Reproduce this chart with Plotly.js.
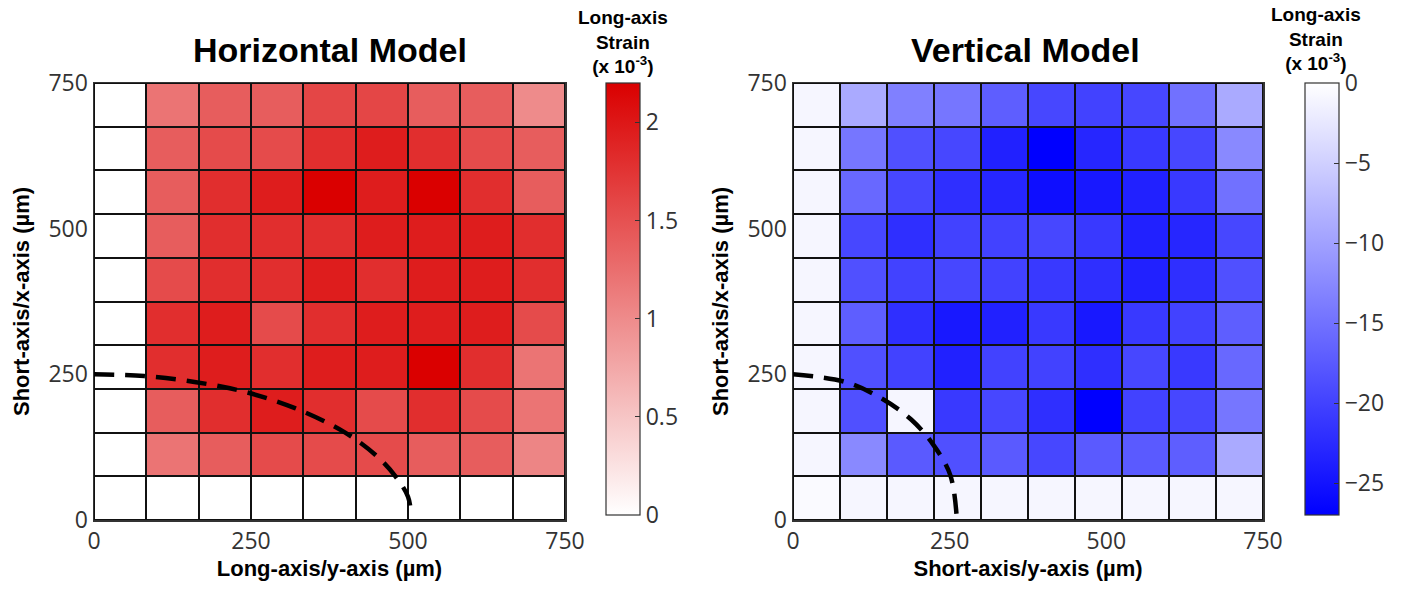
<!DOCTYPE html>
<html>
<head>
<meta charset="utf-8">
<script src="https://cdn.plot.ly/plotly-3.0.1.min.js"></script>
<style>html,body{margin:0;padding:0;background:#fff;}#chart{width:1404px;height:590px;}</style>
</head>
<body>
<div id="chart"></div>
<script>
// ---- Data ----
const horizXEdges = [0, 83.33, 166.67, 250, 333.33, 416.67, 500, 583.33, 666.67, 750];
const vertXEdges = [0, 75, 150, 225, 300, 375, 450, 525, 600, 675, 750];
const yEdges = [0, 75, 150, 225, 300, 375, 450, 525, 600, 675, 750];

// rows listed from y = 0 (bottom) to y = 750 (top)
const horizStrain = [
  [0, 0,    0,    0,    0,    0,    0,    0,    0   ],
  [0, 1.2,  1.4,  1.55, 1.55, 1.55, 1.4,  1.4,  1.05],
  [0, 1.4,  1.8,  1.95, 1.8,  1.55, 1.8,  1.55, 1.2 ],
  [0, 1.8,  1.95, 1.8,  1.95, 1.95, 2.2,  1.8,  1.2 ],
  [0, 1.8,  1.95, 1.55, 1.8,  1.95, 1.95, 1.95, 1.55],
  [0, 1.55, 1.8,  1.8,  1.95, 1.8,  1.95, 1.95, 1.8 ],
  [0, 1.4,  1.8,  1.8,  1.8,  1.95, 1.95, 1.95, 1.8 ],
  [0, 1.4,  1.8,  1.95, 2.2,  1.95, 2.2,  1.8,  1.4 ],
  [0, 1.4,  1.55, 1.55, 1.8,  1.95, 1.8,  1.55, 1.4 ],
  [0, 1.2,  1.4,  1.4,  1.6,  1.6,  1.4,  1.4,  1.0 ]
];

const vertStrain = [
  [-0.5, -1,    -1,    -1,    -1,    -1,    -1,    -1,    -1,    -1   ],
  [-1,   -12.5, -17.5, -18.5, -17.5, -19.5, -17.5, -17.5, -17,   -9   ],
  [-1,   -18.5, -1,    -21,   -19.5, -22,   -27,   -20,   -19.5, -14.5],
  [-1,   -18.5, -20,   -23.5, -20,   -20,   -22,   -19.5, -21,   -16  ],
  [-1,   -17,   -22,   -24.5, -23.5, -21,   -24.5, -21,   -20,   -17  ],
  [-1,   -18.5, -20,   -19.5, -20,   -21,   -22,   -23.5, -22,   -18.5],
  [-1,   -19.5, -22,   -20,   -20,   -19.5, -21,   -23.5, -23,   -19.5],
  [-1,   -16,   -19.5, -22,   -23,   -25.5, -24.5, -23.5, -21,   -15  ],
  [-1,   -14.5, -18.5, -19.5, -23.5, -27,   -23,   -21,   -19.5, -12.5],
  [-1,   -9,    -13.5, -14.5, -17,   -19.5, -20,   -19.5, -15,   -9   ]
];

// dashed boundary curves
const horizCurveX = [0, 80, 160, 240, 320, 400, 450, 480, 500, 505];
const horizCurveY = [250, 247, 237, 220, 192, 150, 110, 75, 40, 8];
const vertCurveX = [0, 83, 141, 189, 224, 251, 261];
const vertCurveY = [250, 237, 209, 172, 129, 77, 8];

const horizTicks = [0, 0.5, 1, 1.5, 2];
const vertTicks = [-25, -20, -15, -10, -5, 0];
const axisTicks = [0, 250, 500, 750];

// ---- Styles ----
const FONT = 'Liberation Sans, Arial, sans-serif';
const TICKFONT = 'Open Sans, Noto Sans, sans-serif';
const tickFont = {family: TICKFONT, size: 23, color: '#333'};
const titleFont = {family: FONT, size: 22, color: '#000', weight: 'bold'};

function cbar(x, ticks) {
  return {
    x: x, xanchor: 'left', xref: 'paper',
    y: 1 - 83/590, yanchor: 'top', yref: 'paper',
    len: (515 - 83)/590, lenmode: 'fraction',
    thickness: 34, thicknessmode: 'pixels',
    outlinewidth: 1.2, outlinecolor: '#333',
    tickvals: ticks, ticks: 'inside', ticklen: 5, tickcolor: '#333',
    tickfont: tickFont, xpad: 0, ypad: 0
  };
}

const traces = [
  {
    type: 'heatmap', x: horizXEdges, y: yEdges, z: horizStrain,
    zmin: 0, zmax: 2.2,
    colorscale: [[0, 'rgb(255,255,255)'], [1, 'rgb(218,0,0)']],
    xgap: 2, ygap: 2, xaxis: 'x', yaxis: 'y',
    colorbar: cbar(606/1404, horizTicks), hoverinfo: 'skip'
  },
  {
    type: 'heatmap', x: vertXEdges, y: yEdges, z: vertStrain,
    zmin: -27, zmax: 0,
    colorscale: [[0, 'rgb(0,0,255)'], [1, 'rgb(255,255,255)']],
    xgap: 2, ygap: 2, xaxis: 'x2', yaxis: 'y2',
    colorbar: cbar(1305/1404, vertTicks), hoverinfo: 'skip'
  },
  {
    type: 'scatter', mode: 'lines', x: horizCurveX, y: horizCurveY,
    line: {color: '#000', width: 4.5, dash: '20px,11px', shape: 'spline'},
    xaxis: 'x', yaxis: 'y', showlegend: false, hoverinfo: 'skip', cliponaxis: false
  },
  {
    type: 'scatter', mode: 'lines', x: vertCurveX, y: vertCurveY,
    line: {color: '#000', width: 4.5, dash: '20px,11px', shape: 'spline'},
    xaxis: 'x2', yaxis: 'y2', showlegend: false, hoverinfo: 'skip', cliponaxis: false
  }
];

function xax(domain, title, anchor) {
  return {
    domain: domain, range: [0, 750], anchor: anchor,
    tickvals: axisTicks, tickfont: tickFont, ticks: '', showgrid: false, zeroline: false,
    showline: true, mirror: true, linecolor: '#333', linewidth: 1.5,
    title: {text: title, font: titleFont, standoff: 4}
  };
}
function yax(domain, title, anchor) {
  return {
    domain: domain, range: [0, 750], anchor: anchor,
    tickvals: axisTicks, tickfont: tickFont, ticks: '', showgrid: false, zeroline: false,
    showline: true, mirror: true, linecolor: '#333', linewidth: 1.5,
    title: {text: title, font: titleFont, standoff: 12}
  };
}

const yDom = [1 - 520/590, 1 - 83/590];
const cbTitle = '<b>Long-axis<br>Strain<br>(x 10<sup>-3</sup>)</b>';

const layout = {
  width: 1404, height: 590,
  margin: {l: 0, r: 0, t: 0, b: 0},
  paper_bgcolor: '#fff', plot_bgcolor: '#111',
  showlegend: false,
  font: {family: FONT},
  xaxis: xax([94/1404, 565/1404], 'Long-axis/y-axis (µm)', 'y'),
  yaxis: yax(yDom, 'Short-axis/x-axis (µm)', 'x'),
  xaxis2: xax([793/1404, 1263/1404], 'Short-axis/y-axis (µm)', 'y2'),
  yaxis2: yax(yDom, 'Short-axis/x-axis (µm)', 'x2'),
  annotations: [
    {text: '<b>Horizontal Model</b>', x: 330/1404, y: 1 - 50/590, xref: 'paper', yref: 'paper',
     xanchor: 'center', yanchor: 'middle', showarrow: false, font: {family: FONT, size: 34, color: '#000'}},
    {text: '<b>Vertical Model</b>', x: 1025/1404, y: 1 - 50/590, xref: 'paper', yref: 'paper',
     xanchor: 'center', yanchor: 'middle', showarrow: false, font: {family: FONT, size: 34, color: '#000'}},
    {text: cbTitle, x: 623/1404, y: 1 - 42/590, xref: 'paper', yref: 'paper',
     xanchor: 'center', yanchor: 'middle', showarrow: false, font: {family: FONT, size: 19, color: '#000'}},
    {text: cbTitle, x: 1316/1404, y: 1 - 39/590, xref: 'paper', yref: 'paper',
     xanchor: 'center', yanchor: 'middle', showarrow: false, font: {family: FONT, size: 19, color: '#000'}}
  ]
};

Plotly.newPlot('chart', traces, layout, {staticPlot: true, displayModeBar: false});
</script>
</body>
</html>
